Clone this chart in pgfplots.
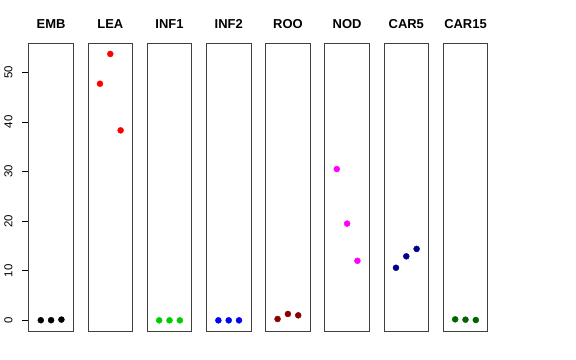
\documentclass[border=0pt]{standalone}
\usepackage{fontspec}
\setmainfont{Liberation Sans}
\usepackage{pgfplots}
\pgfplotsset{compat=1.18}
\definecolor{rgreen}{RGB}{0,205,0}
\definecolor{rdarkred}{RGB}{139,0,0}
\definecolor{rnavy}{RGB}{0,0,139}
\definecolor{rdarkgreen}{RGB}{0,100,0}
\definecolor{rmagenta}{RGB}{255,0,255}
\definecolor{rblue}{RGB}{0,0,255}
\definecolor{rred}{RGB}{255,0,0}
\pgfplotsset{panel/.style={
  scale only axis, width=44.6bp, height=287.7bp, anchor=south west,
  xmin=-0.16, xmax=4.16, ymin=-2.15, ymax=55.85,
  xtick=\empty, ytick=\empty,
  axis line style={black!75, line width=0.8bp},
  title style={font=\bfseries\fontsize{13}{13}\selectfont, anchor=base, at={(0.5,1)}, yshift=9.3bp},
  clip=false,
}}
\pgfplotsset{pt/.style={only marks, mark=*, mark size=3bp, color=#1, mark options={draw=#1, fill=#1}}}
\begin{document}
\begin{tikzpicture}
\useasboundingbox (0bp,0bp) rectangle (576bp,360bp);
\begin{axis}[panel, at={(28.8bp,29bp)}, title={EMB},
  ytick={0,10,20,30,40,50}, ytick pos=left, tick align=outside,
  major tick length=7bp, y tick style={black, line width=0.6bp},
  yticklabel style={rotate=90, anchor=south, inner ysep=9bp, font=\fontsize{11.5}{11.5}\selectfont},
  /pgf/number format/assume math mode=true]
\addplot[pt=black] coordinates {(1,0.02) (2,0.03) (3,0.15)};
\end{axis}
\begin{axis}[panel, at={(88.0bp,29bp)}, title={LEA}]
\addplot[pt=rred] coordinates {(1,47.7) (2,53.7) (3,38.3)};
\end{axis}
\begin{axis}[panel, at={(147.2bp,29bp)}, title={INF1}]
\addplot[pt=rgreen] coordinates {(1,0.0) (2,0.0) (3,0.0)};
\end{axis}
\begin{axis}[panel, at={(206.4bp,29bp)}, title={INF2}]
\addplot[pt=rblue] coordinates {(1,0.0) (2,0.0) (3,0.0)};
\end{axis}
\begin{axis}[panel, at={(265.6bp,29bp)}, title={ROO}]
\addplot[pt=rdarkred] coordinates {(1,0.27) (2,1.28) (3,1.01)};
\end{axis}
\begin{axis}[panel, at={(324.8bp,29bp)}, title={NOD}]
\addplot[pt=rmagenta] coordinates {(1,30.5) (2,19.5) (3,12.0)};
\end{axis}
\begin{axis}[panel, at={(384.0bp,29bp)}, title={CAR5}]
\addplot[pt=rnavy] coordinates {(1,10.6) (2,12.9) (3,14.4)};
\end{axis}
\begin{axis}[panel, at={(443.2bp,29bp)}, title={CAR15}]
\addplot[pt=rdarkgreen] coordinates {(1,0.2) (2,0.13) (3,0.07)};
\end{axis}
\end{tikzpicture}
\end{document}
